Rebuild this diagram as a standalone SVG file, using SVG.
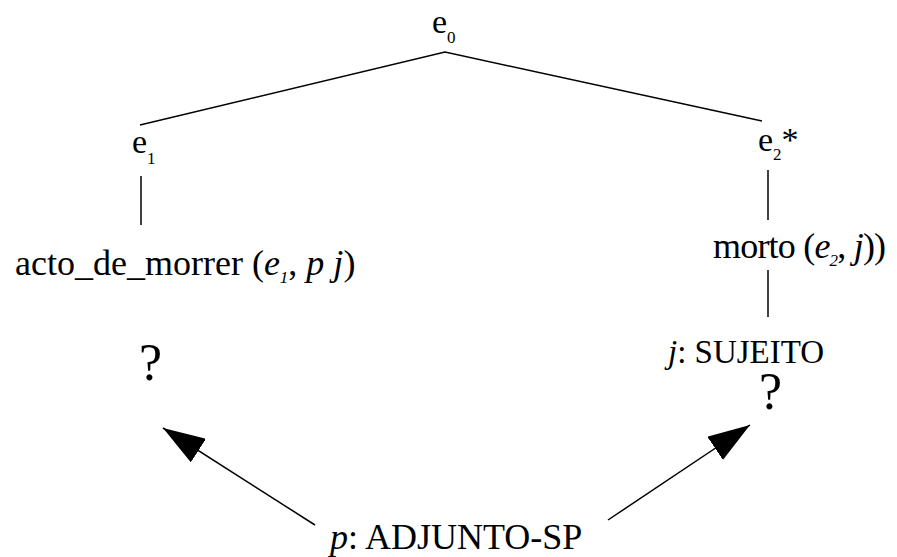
<svg xmlns="http://www.w3.org/2000/svg" width="897" height="557" viewBox="0 0 897 557">
<style>
text{font-family:"Liberation Serif","Times New Roman",serif;fill:#000}
.t{font-size:36px}
.e{font-size:34px}
.s{font-size:17px}
.q{font-size:52px}
.i{font-style:italic}
.ln{stroke:#000;stroke-width:1.5;fill:none}
</style>
<defs>
<marker id="ah" viewBox="0 0 42 28" refX="42" refY="14" markerWidth="42" markerHeight="28" markerUnits="userSpaceOnUse" orient="auto">
<path d="M0,0 L42,14 L0,28 z" fill="#000"/>
</marker>
</defs>
<g id="connectors">
<path class="ln" d="M140,125 L445,52 L762,121"/>
<path class="ln" d="M141,176 L141,225"/>
<path class="ln" d="M768,170 L768,220"/>
<path class="ln" d="M768,270 L768,317"/>
<path class="ln" d="M315,525 L163,428" marker-end="url(#ah)"/>
<path class="ln" d="M608,520 L750,425" marker-end="url(#ah)"/>
</g>
<g id="e0"><text class="e" x="432" y="33">e<tspan class="s" dy="10">0</tspan></text></g>
<g id="e1"><text class="e" x="132" y="153">e<tspan class="s" dy="11">1</tspan></text></g>
<g id="e2"><text class="e" x="758" y="151">e<tspan class="s" dy="9">2</tspan><tspan dy="-9">*</tspan></text></g>
<g id="acto"><text class="t" x="15" y="275">acto_de_morrer (<tspan class="i">e</tspan><tspan class="s i" dy="8">1</tspan><tspan dy="-8">, </tspan><tspan class="i">p j</tspan>)</text></g>
<g id="morto"><text class="t" x="713" y="258" style="letter-spacing:-0.8px">morto (<tspan class="i">e</tspan><tspan class="s i" dy="8">2</tspan><tspan dy="-8">, </tspan><tspan class="i">j</tspan>))</text></g>
<g id="sujeito"><text class="t" x="668" y="363" style="font-size:33px"><tspan class="i">j</tspan>: SUJEITO</text></g>
<g id="q1"><text class="q" x="139" y="380">?</text></g>
<g id="q2"><text class="q" x="759" y="409">?</text></g>
<g id="adjunto"><text class="t" x="330" y="549"><tspan class="i">p</tspan>: ADJUNTO-SP</text></g>
</svg>
